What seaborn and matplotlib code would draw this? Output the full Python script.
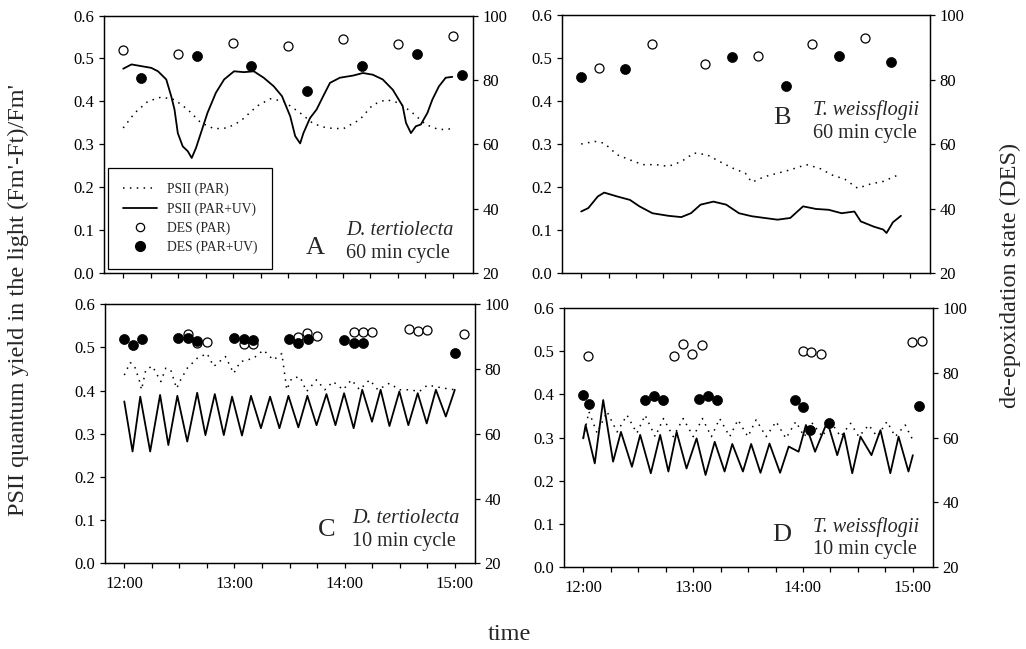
import matplotlib.pyplot as plt
import seaborn as sns
from matplotlib.lines import Line2D
from matplotlib.ticker import MultipleLocator

# time in minutes after 12:00

# Panel A - D. tertiolecta, 60 min cycle
a_par_t = [0, 6.3, 13.5, 20.8, 28.0, 35.2, 42.4, 49.7, 56.9, 64.1, 73.1, 80.4, 87.6,
           96.6, 103.8, 111.0, 120.1, 129.1, 136.3, 143.6, 150.8, 158.0, 165.2, 172.4, 179.7]
a_par_y = [0.338, 0.373, 0.400, 0.410, 0.404, 0.381, 0.350, 0.336, 0.338, 0.354, 0.389, 0.406, 0.400,
           0.373, 0.348, 0.338, 0.336, 0.357, 0.392, 0.404, 0.396, 0.373, 0.346, 0.334, 0.336]
a_uv_t = [0, 4.5, 9.9, 15.3, 19.0, 23.5, 26.2, 28.0, 29.8, 32.5, 35.2, 37.4, 39.7, 42.4, 46.0,
          50.6, 55.1, 60.5, 65.9, 71.3, 76.7, 82.2, 86.7, 91.2, 93.9, 96.6, 98.4, 102.0, 105.6,
          109.2, 112.9, 118.3, 125.5, 130.9, 136.3, 141.7, 147.2, 152.6, 154.4, 157.1, 159.8,
          162.5, 166.1, 168.8, 172.4, 176.1, 179.7]
a_uv_y = [0.476, 0.486, 0.482, 0.478, 0.470, 0.451, 0.412, 0.381, 0.326, 0.295, 0.284, 0.268,
          0.291, 0.326, 0.373, 0.420, 0.451, 0.470, 0.468, 0.470, 0.455, 0.435, 0.412, 0.365,
          0.319, 0.302, 0.326, 0.361, 0.381, 0.412, 0.443, 0.455, 0.460, 0.466, 0.462, 0.451,
          0.427, 0.389, 0.350, 0.326, 0.342, 0.346, 0.373, 0.404, 0.435, 0.455, 0.457]
a_des_par_t = [0, 29.8, 60, 90, 120, 150, 180]
a_des_par = [89.4, 88.0, 91.4, 90.4, 92.7, 91.2, 93.5]
a_des_uv_t = [9.9, 40.1, 69.9, 100.2, 130.2, 160.2, 185.1]
a_des_uv = [80.6, 87.5, 84.4, 76.6, 84.2, 88.1, 81.6]

# Panel B - T. weissflogii, 60 min cycle
b_par_t = [0, 7.4, 12.6, 19.7, 26.7, 33.7, 40.8, 47.8, 54.8, 61.8, 68.9, 75.9, 82.9,
           89.9, 93.4, 100.4, 107.5, 114.5, 123.3, 130.3, 137.3, 144.4, 151.4, 158.4, 165.4, 173.0]
b_par_y = [0.300, 0.306, 0.302, 0.275, 0.263, 0.252, 0.252, 0.248, 0.259, 0.279, 0.275, 0.259, 0.244,
           0.232, 0.211, 0.224, 0.232, 0.240, 0.252, 0.244, 0.228, 0.218, 0.197, 0.207, 0.213, 0.227]
b_uv_t = [0, 3.9, 9.1, 12.6, 19.7, 26.7, 31.9, 39.0, 47.8, 54.8, 60.1, 65.4, 72.4, 79.4, 86.4,
          93.4, 100.4, 107.5, 114.5, 121.5, 128.5, 135.5, 142.6, 149.6, 153.1, 160.1, 165.4,
          167.2, 170.7, 175.1]
b_uv_y = [0.143, 0.151, 0.178, 0.187, 0.178, 0.170, 0.155, 0.139, 0.133, 0.130, 0.139, 0.159,
          0.166, 0.159, 0.139, 0.132, 0.128, 0.124, 0.128, 0.155, 0.149, 0.147, 0.139, 0.143,
          0.120, 0.108, 0.101, 0.093, 0.118, 0.133]
b_des_par_t = [9.7, 38.6, 68.0, 96.9, 126.3, 155.4]
b_des_par = [83.5, 91.0, 84.7, 87.4, 91.1, 92.8]
b_des_uv_t = [0, 24.1, 82.4, 111.9, 140.9, 169.8]
b_des_uv = [80.7, 83.3, 86.9, 78.0, 87.3, 85.5]

# Panel C - D. tertiolecta, 10 min cycle
c_par_t = [0, 3.2, 5.4, 8.1, 9.4, 11.7, 15.3, 19.9, 22.6, 25.3, 28.5, 30.7, 34.3, 39.7, 45.1,
           48.7, 55.1, 59.6, 63.2, 70.4, 75.8, 81.2, 85.8, 88.5, 91.2, 95.7, 99.3, 104.7, 109.2,
           113.7, 119.2, 123.7, 128.2, 133.6, 138.1, 144.4, 149.8, 155.3, 160.7, 165.2, 169.7,
           175.1, 180.0]
c_par_y = [0.436, 0.465, 0.459, 0.425, 0.402, 0.448, 0.457, 0.421, 0.452, 0.448, 0.405, 0.425,
           0.452, 0.475, 0.486, 0.456, 0.479, 0.440, 0.467, 0.475, 0.494, 0.471, 0.486, 0.402,
           0.429, 0.432, 0.398, 0.425, 0.402, 0.421, 0.402, 0.425, 0.402, 0.425, 0.402, 0.417,
           0.402, 0.402, 0.398, 0.413, 0.409, 0.405, 0.402]
c_uv_t = [0, 4.5, 8.7, 14.1, 19.5, 24.0, 28.9, 34.3, 39.7, 44.2, 49.3, 54.2, 58.7, 64.1, 69.0,
          74.4, 79.4, 84.5, 89.4, 94.8, 99.7, 104.7, 110.1, 115.0, 119.7, 124.9, 129.6, 134.9,
          139.6, 144.4, 149.8, 154.7, 159.8, 164.7, 169.7, 175.1, 180.0]
c_uv_y = [0.375, 0.259, 0.386, 0.259, 0.390, 0.274, 0.388, 0.282, 0.395, 0.297, 0.392, 0.297,
          0.386, 0.296, 0.388, 0.313, 0.386, 0.313, 0.388, 0.315, 0.388, 0.320, 0.392, 0.320,
          0.394, 0.313, 0.402, 0.328, 0.402, 0.318, 0.398, 0.320, 0.394, 0.324, 0.402, 0.340,
          0.402]
c_des_par_t = [34.7, 39.7, 44.8, 65.0, 69.9, 94.8, 99.7, 104.7, 124.9, 130.0, 134.9,
               154.9, 159.8, 164.7, 185.0]
c_des_par = [90.8, 88.0, 88.3, 87.7, 87.7, 89.8, 91.1, 90.3, 91.3, 91.3, 91.3,
             92.3, 91.8, 92.1, 90.9]
c_des_uv_t = [0, 4.5, 9.9, 29.2, 34.7, 39.7, 59.6, 65.0, 69.9, 89.7, 94.8, 99.8,
              119.7, 124.9, 130.0, 180.0]
c_des_uv = [89.2, 87.5, 89.2, 89.7, 89.5, 88.8, 89.7, 89.2, 89.0, 89.2, 88.2, 89.2,
            89.0, 88.0, 88.0, 84.9]

# Panel D - T. weissflogii, 10 min cycle
d_par_t = [0, 3.1, 7.6, 13.0, 18.5, 23.9, 29.3, 33.8, 39.3, 43.8, 49.2, 54.6, 60.1, 65.1,
           70.0, 74.5, 80.0, 84.5, 89.9, 94.4, 99.9, 105.3, 110.7, 116.1, 120.7, 125.2,
           130.6, 135.1, 140.6, 146.0, 150.5, 155.9, 160.5, 165.9, 170.4, 175.8, 180.0]
d_par_y = [0.298, 0.360, 0.310, 0.360, 0.313, 0.352, 0.310, 0.352, 0.302, 0.344, 0.302, 0.344,
           0.302, 0.344, 0.302, 0.344, 0.302, 0.341, 0.302, 0.341, 0.302, 0.337, 0.298, 0.337,
           0.302, 0.333, 0.302, 0.337, 0.302, 0.333, 0.302, 0.329, 0.302, 0.337, 0.302, 0.329,
           0.294]
d_uv_t = [0, 1.3, 6.3, 10.9, 16.3, 20.6, 26.6, 31.1, 36.9, 42.0, 46.5, 51.0, 56.4, 61.9, 66.8,
          71.8, 77.2, 81.4, 87.2, 91.7, 96.8, 101.7, 107.5, 112.2, 117.6, 121.6, 126.6, 133.3,
          138.7, 142.4, 146.9, 151.4, 157.4, 162.3, 167.7, 172.2, 177.6, 180.0]
d_uv_y = [0.298, 0.329, 0.240, 0.387, 0.244, 0.313, 0.232, 0.306, 0.217, 0.306, 0.221, 0.313,
          0.228, 0.298, 0.213, 0.290, 0.221, 0.285, 0.221, 0.285, 0.218, 0.286, 0.218, 0.279,
          0.267, 0.329, 0.267, 0.337, 0.259, 0.310, 0.217, 0.302, 0.259, 0.317, 0.217, 0.302,
          0.221, 0.259]
d_des_par_t = [2.5, 49.6, 54.6, 59.5, 64.6, 119.8, 124.6, 129.7, 179.8, 184.9]
d_des_par = [85.3, 85.3, 89.1, 85.8, 88.6, 86.9, 86.4, 86.0, 89.7, 90.0]
d_des_uv_t = [0, 3.4, 33.5, 38.4, 43.4, 63.3, 68.2, 73.3, 115.6, 119.8, 123.7, 134.2, 183.6]
d_des_uv = [73.1, 70.4, 71.6, 72.9, 71.6, 71.9, 72.9, 71.6, 71.6, 69.3, 62.3, 64.4, 69.7]

time_ticks = [0, 60, 120, 180]
time_labels = ["12:00", "13:00", "14:00", "15:00"]

sns.set_theme(style="ticks")
plt.rcParams["font.family"] = ["Liberation Serif", "DejaVu Serif"]

fig = plt.figure(figsize=(10.26, 6.49), dpi=100)

DOT = (0, (1, 3.5))


def draw_panel(rect, par_t, par_y, uv_t, uv_y, dpt, dp, dut, du,
               letter, species, cycle, letter_xy, species_xy, show_time):
    ax = fig.add_axes(rect)
    sns.lineplot(x=par_t, y=par_y, ax=ax, color="black", lw=1.1,
                 linestyle=DOT, estimator=None)
    sns.lineplot(x=uv_t, y=uv_y, ax=ax, color="black", lw=1.3, estimator=None)
    ax.set_xlim(-10.5, 191)
    ax.set_ylim(0, 0.6)
    ax.set_yticks([0, 0.1, 0.2, 0.3, 0.4, 0.5, 0.6])
    ax.set_yticklabels(["0.0", "0.1", "0.2", "0.3", "0.4", "0.5", "0.6"])
    ax.set_xticks(time_ticks)
    ax.xaxis.set_minor_locator(MultipleLocator(15))
    if show_time:
        ax.set_xticklabels(time_labels)
    else:
        ax.set_xticklabels([])
    ax.tick_params(axis="both", which="both", direction="out", length=3.5,
                   width=0.9, labelsize=12, color="black", labelcolor="black")
    ax.tick_params(axis="x", pad=6)
    ax.set_xlabel("")
    ax.set_ylabel("")

    ax2 = ax.twinx()
    sns.scatterplot(x=dpt, y=dp, ax=ax2, marker="o", s=42, color="white",
                    edgecolor="black", linewidth=0.9, zorder=3)
    sns.scatterplot(x=dut, y=du, ax=ax2, marker="o", s=52, color="black",
                    edgecolor="black", linewidth=0.5, zorder=4)
    ax2.set_ylim(20, 100)
    ax2.set_yticks([20, 40, 60, 80, 100])
    ax2.set_xlim(-10.5, 191)
    ax2.tick_params(axis="y", direction="out", length=3.5, width=0.9,
                    labelsize=12, color="black", labelcolor="black")
    ax2.set_ylabel("")
    for a in (ax, ax2):
        for s in a.spines.values():
            s.set_visible(True)
            s.set_color("black")
            s.set_linewidth(0.9)

    ax2.text(letter_xy[0], letter_xy[1], letter, transform=ax.transAxes,
             fontsize=19, ha="center", va="center")
    ax2.text(species_xy[0], species_xy[1], species, transform=ax.transAxes,
             fontsize=14.5, style="italic", ha="left", va="center")
    ax2.text(species_xy[0], species_xy[1] - 0.09, cycle, transform=ax.transAxes,
             fontsize=14.5, ha="left", va="center")
    return ax, ax2


axA, axA2 = draw_panel([104 / 1026, 1 - 273 / 649, 369 / 1026, 257.5 / 649],
                       a_par_t, a_par_y, a_uv_t, a_uv_y,
                       a_des_par_t, a_des_par, a_des_uv_t, a_des_uv,
                       "A", "D. tertiolecta", "60 min cycle",
                       (0.572, 0.097), (0.656, 0.165), False)
axB, axB2 = draw_panel([562 / 1026, 1 - 273 / 649, 368 / 1026, 258 / 649],
                       b_par_t, b_par_y, b_uv_t, b_uv_y,
                       b_des_par_t, b_des_par, b_des_uv_t, b_des_uv,
                       "B", "T. weissflogii", "60 min cycle",
                       (0.597, 0.60), (0.683, 0.632), False)
axC, axC2 = draw_panel([105 / 1026, 1 - 563.3 / 649, 370 / 1026, 259 / 649],
                       c_par_t, c_par_y, c_uv_t, c_uv_y,
                       c_des_par_t, c_des_par, c_des_uv_t, c_des_uv,
                       "C", "D. tertiolecta", "10 min cycle",
                       (0.599, 0.129), (0.668, 0.174), True)
axD, axD2 = draw_panel([564 / 1026, 1 - 566.7 / 649, 369 / 1026, 258.4 / 649],
                       d_par_t, d_par_y, d_uv_t, d_uv_y,
                       d_des_par_t, d_des_par, d_des_uv_t, d_des_uv,
                       "D", "T. weissflogii", "10 min cycle",
                       (0.589, 0.123), (0.675, 0.155), True)

# legend in panel A
handles = [
    Line2D([], [], color="black", lw=1.1, linestyle=DOT),
    Line2D([], [], color="black", lw=1.3),
    Line2D([], [], color="black", marker="o", markerfacecolor="white", lw=0,
           markersize=6, markeredgewidth=0.9),
    Line2D([], [], color="black", marker="o", markerfacecolor="black", lw=0,
           markersize=7),
]
labels = ["PSII (PAR)", "PSII (PAR+UV)", "DES (PAR)", "DES (PAR+UV)"]
leg = axA2.legend(handles, labels, loc="lower left", bbox_to_anchor=(0.011, 0.016),
                  borderaxespad=0, fontsize=9.8, frameon=True, fancybox=False,
                  edgecolor="black", framealpha=1, handlelength=2.5,
                  handletextpad=0.7, labelspacing=0.42, borderpad=1.1)
leg.get_frame().set_linewidth(0.9)
leg.set_zorder(10)

fig.text(18 / 1026, 1 - 300 / 649, "PSII quantum yield in the light (Fm'-Ft)/Fm'",
         rotation=90, fontsize=17.5, ha="center", va="center")
fig.text(1010 / 1026, 1 - 275 / 649, "de-epoxidation state (DES)",
         rotation=90, fontsize=17.5, ha="center", va="center")
fig.text(509 / 1026, 1 - 634 / 649, "time", fontsize=17.5, ha="center", va="center")

fig.savefig("out.png", dpi=100)
